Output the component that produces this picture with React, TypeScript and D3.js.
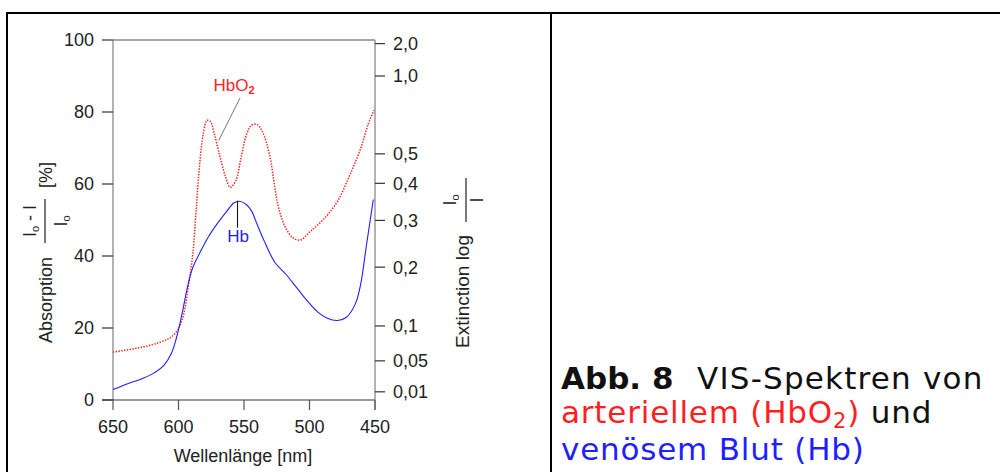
import * as d3 from "d3";

// HbO2 (arterial) – wavelength [nm] and absorption [%]
const hbo2Wavelength = [650, 627.3, 613.7, 605.5, 600, 596, 591.9, 589.1, 586.4, 583.7, 581, 578.2, 575.5, 572.8, 568.7, 564.6, 560.5, 556.4, 552.3, 548.2, 544.1, 540, 535.9, 530.5, 526.4, 523.6, 518.2, 512.7, 507.3, 499.1, 488.2, 478.6, 469.1, 460.9, 455.4, 450.8];
const hbo2Absorption = [13.3, 14.7, 16.1, 17.5, 19.8, 23.9, 33.1, 40.5, 53.4, 66.2, 74.1, 77.7, 77.3, 74.1, 68.1, 62.6, 59.1, 60.8, 67.2, 73.6, 76.4, 76.5, 74.5, 68.1, 58.9, 53.4, 47.8, 45.1, 44.4, 46.9, 50.6, 55.2, 62.6, 69.9, 76.4, 80.5];

// Hb (venous)
const hbWavelength = [650, 638.3, 627.3, 619.2, 611, 605.5, 601.4, 597.3, 593.2, 589.1, 583.7, 576.9, 570, 563.2, 557.8, 553.7, 548.2, 544.1, 540, 534.6, 526.4, 518.2, 510, 501.8, 493.6, 486.8, 478.6, 471.8, 465, 460.9, 456.8, 451.3];
const hbAbsorption = [2.9, 4.6, 6.0, 7.4, 9.7, 12.9, 17.5, 23.9, 31.3, 36.8, 40.9, 45.5, 49.2, 52.4, 54.7, 55.2, 54.3, 52.4, 48.8, 44.2, 38.2, 35.0, 31.3, 27.6, 24.4, 22.8, 22.1, 23.0, 26.7, 32.2, 42.3, 55.7];

const xTicks = [650, 600, 550, 500, 450];
const yTicks = [0, 20, 40, 60, 80, 100];
const extinctionTicks = [2.0, 1.0, 0.5, 0.4, 0.3, 0.2, 0.1, 0.05, 0.01];
const extinctionLabels = ["2,0", "1,0", "0,5", "0,4", "0,3", "0,2", "0,1", "0,05", "0,01"];

const FONT = "'Liberation Sans', Arial, sans-serif";
const CAPTION_FONT = "'DejaVu Sans', Verdana, sans-serif";
const RED = "#ff1f1f";
const BLUE = "#1f1fff";

export default function App() {
  const x = d3.scaleLinear().domain([650, 450]).range([113, 375]);
  const y = d3.scaleLinear().domain([0, 100]).range([400, 40]);
  // absorption = 1 - 10^-E, so the extinction axis sits on the same scale
  const yExt = (e: number) => y(100 * (1 - Math.pow(10, -e)));

  const line = d3
    .line<[number, number]>()
    .x((d) => x(d[0]))
    .y((d) => y(d[1]))
    .curve(d3.curveCatmullRom.alpha(0.5));

  const hbo2Path = line(hbo2Wavelength.map((w, i) => [w, hbo2Absorption[i]]));
  const hbPath = line(hbWavelength.map((w, i) => [w, hbAbsorption[i]]));

  const [x0, x1] = x.range();
  const [yb, yt] = y.range();

  return (
    <svg width={1000} height={472} style={{ position: "absolute", left: 0, top: 0 }}>
      <rect width={1000} height={472} fill="white" />
      {/* table borders */}
      <line x1={6} x2={1000} y1={13} y2={13} stroke="black" strokeWidth={2} />
      <line x1={7} x2={7} y1={12} y2={472} stroke="black" strokeWidth={2} />
      <line x1={551} x2={551} y1={12} y2={472} stroke="black" strokeWidth={2} />

      {/* frame */}
      <line x1={x0} x2={x1} y1={yt} y2={yt} stroke="#8a8a8a" strokeWidth={1.3} />
      <line x1={x0} x2={x0} y1={yt} y2={yb} stroke="#8a8a8a" strokeWidth={1.3} />
      <line x1={x1} x2={x1} y1={yt} y2={yb + 10} stroke="#8a8a8a" strokeWidth={1.3} />
      <line x1={x0 - 11} x2={x1} y1={yb} y2={yb} stroke="#333" strokeWidth={1.2} />

      {/* left axis */}
      {yTicks.map((t) => (
        <g key={t}>
          <line x1={x0 - 11} x2={x0} y1={y(t)} y2={y(t)} stroke="#333" strokeWidth={1.2} />
          <text x={x0 - 19} y={y(t)} dy="0.36em" textAnchor="end" fontFamily={FONT} fontSize={18} fill="#222">
            {t}
          </text>
        </g>
      ))}

      {/* bottom axis */}
      {xTicks.map((t) => (
        <g key={t}>
          <line x1={x(t)} x2={x(t)} y1={yb} y2={yb + 10} stroke="#555" strokeWidth={1.2} />
          <text x={x(t)} y={yb + 33} textAnchor="middle" fontFamily={FONT} fontSize={18} fill="#222">
            {t}
          </text>
        </g>
      ))}
      <text x={243} y={462} textAnchor="middle" fontFamily={FONT} fontSize={18} fill="#222">
        Wellenlänge [nm]
      </text>

      {/* right axis (extinction) */}
      {extinctionTicks.map((e, i) => (
        <g key={e}>
          <line x1={x1} x2={x1 + 10} y1={yExt(e)} y2={yExt(e)} stroke="#333" strokeWidth={1.2} />
          <text x={x1 + 18} y={yExt(e)} dy="0.36em" fontFamily={FONT} fontSize={18} fill="#222">
            {extinctionLabels[i]}
          </text>
        </g>
      ))}

      {/* left axis title */}
      <g transform="translate(52,250) rotate(-90)" fontFamily={FONT} fontSize={18} fill="#222">
        <text x={-93} y={0}>Absorption</text>
        <line x1={7} x2={51} y1={-7} y2={-7} stroke="#222" strokeWidth={1.2} />
        <text x={29} y={-16} textAnchor="middle">
          I<tspan fontSize={11} dy={3}>o</tspan>
          <tspan dy={-3}> - I</tspan>
        </text>
        <text x={29} y={15} textAnchor="middle">
          I<tspan fontSize={11} dy={3}>o</tspan>
        </text>
        <text x={62} y={0}>[%]</text>
      </g>

      {/* right axis title */}
      <g transform="translate(469,250) rotate(-90)" fontFamily={FONT} fontSize={19} fill="#222">
        <text x={-98} y={0}>Extinction log</text>
        <line x1={28} x2={72} y1={-3} y2={-3} stroke="#222" strokeWidth={1.2} />
        <text x={50} y={-13} textAnchor="middle" fontSize={18}>
          I<tspan fontSize={11} dy={3}>o</tspan>
        </text>
        <text x={50} y={14} textAnchor="middle" fontSize={18}>
          I
        </text>
      </g>

      {/* curves */}
      <path d={hbo2Path ?? ""} fill="none" stroke={RED} strokeWidth={1.5} strokeDasharray="1.4 1.4" />
      <path d={hbPath ?? ""} fill="none" stroke={BLUE} strokeWidth={1.1} />

      {/* annotations */}
      <line x1={240} y1={98} x2={218.6} y2={140.7} stroke="#777" strokeWidth={1} />
      <text x={213.6} y={91} fontFamily={FONT} fontSize={17} fill={RED}>
        HbO<tspan fontSize={11} dy={3} fontWeight="bold">2</tspan>
      </text>
      <line x1={237.5} y1={200.7} x2={237.5} y2={227.7} stroke="#111" strokeWidth={1.1} />
      <text x={238} y={242} textAnchor="middle" fontFamily={FONT} fontSize={17} fill={BLUE}>
        Hb
      </text>

      {/* caption */}
      <g fontFamily={CAPTION_FONT} fontSize={31}>
        <text x={561} y={389} fill="#111" fontWeight="bold">
          Abb. 8
        </text>
        <text x={697} y={389} fill="#111" letterSpacing={1.2}>
          VIS-Spektren von
        </text>
        <text x={561} y={423} letterSpacing={0.8}>
          <tspan fill={RED}>arteriellem (HbO</tspan>
          <tspan fill={RED} fontSize={21} dy={5}>2</tspan>
          <tspan fill={RED} dy={-5}>)</tspan>
          <tspan fill="#111"> und</tspan>
        </text>
        <text x={561} y={460} fill={BLUE} letterSpacing={0.8}>
          venösem Blut (Hb)
        </text>
      </g>
    </svg>
  );
}
